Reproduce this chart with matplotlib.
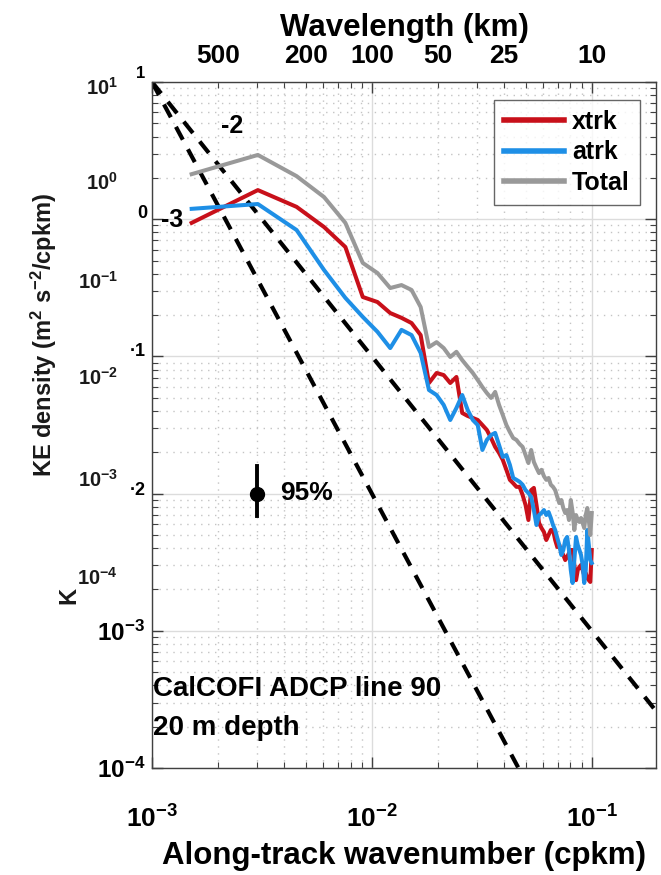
import numpy as np
import matplotlib
matplotlib.use("Agg")
import matplotlib.pyplot as plt
from matplotlib.ticker import LogLocator, NullLocator, NullFormatter, FixedLocator
from matplotlib.lines import Line2D

plt.rcParams['font.family'] = ['Liberation Sans', 'DejaVu Sans']
plt.rcParams['font.weight'] = 'bold'
plt.rcParams['mathtext.fontset'] = 'custom'
plt.rcParams['mathtext.rm'] = 'Liberation Sans:bold'
plt.rcParams['mathtext.bf'] = 'Liberation Sans:bold'
plt.rcParams['mathtext.it'] = 'Liberation Sans:bold:italic'
plt.rcParams['mathtext.default'] = 'rm'

# ---------------- data ----------------
wavenumber = [0.001515, 0.003030, 0.004545, 0.006061, 0.007576, 0.009091, 0.010606, 0.012121,
              0.013636, 0.015152, 0.016667, 0.018182, 0.019697, 0.021212, 0.022727, 0.024242,
              0.025758, 0.027273, 0.028788, 0.030303, 0.031818, 0.033333, 0.034848, 0.036364,
              0.037879, 0.039394, 0.040909, 0.042424, 0.043939, 0.045455, 0.046970, 0.048485,
              0.050000, 0.051515, 0.053030, 0.054545, 0.056061, 0.057576, 0.059091, 0.060606,
              0.062121, 0.063636, 0.065152, 0.066667, 0.068182, 0.069697, 0.071212, 0.072727,
              0.074242, 0.075758, 0.077273, 0.078788, 0.080303, 0.081818, 0.083333, 0.084848,
              0.086364, 0.087879, 0.089394, 0.090909, 0.092424, 0.093939, 0.095455, 0.096970,
              0.098485, 0.100000]

xtrk = [0.94, 1.63, 1.23, 0.877, 0.627, 0.271, 0.249, 0.207, 0.191, 0.175,
        0.143, 0.064, 0.0757, 0.0731, 0.064, 0.0708, 0.0387, 0.0368, 0.0356, 0.0344,
        0.0316, 0.0291, 0.0254, 0.0219, 0.0198, 0.0176, 0.0149, 0.0126, 0.0119, 0.0112,
        0.0112, 0.00977, 0.00826, 0.00642, 0.0106, 0.0110, 0.00826, 0.00611, 0.00561, 0.00525,
        0.00459, 0.00499, 0.00543, 0.00543, 0.00459, 0.00408, 0.00422, 0.00375, 0.00357, 0.00328,
        0.00345, 0.00369, 0.00388, 0.00388, 0.00302, 0.00234, 0.00277, 0.00292, 0.00302, 0.00277,
        0.00255, 0.00264, 0.00243, 0.00234, 0.00227, 0.00388]

atrk = [1.19, 1.29, 0.834, 0.426, 0.267, 0.194, 0.151, 0.115, 0.156, 0.143,
        0.106, 0.0569, 0.0523, 0.0443, 0.0344, 0.0421, 0.0523, 0.0407, 0.0344, 0.0316,
        0.0208, 0.0246, 0.0267, 0.0277, 0.0226, 0.0185, 0.0191, 0.0162, 0.0130, 0.0126,
        0.0122, 0.0116, 0.0106, 0.0101, 0.00945, 0.00759, 0.00590, 0.00698, 0.00722, 0.00759,
        0.00698, 0.00734, 0.00664, 0.00590, 0.00543, 0.00475, 0.00422, 0.00357, 0.00388, 0.00459,
        0.00483, 0.00388, 0.00277, 0.00223, 0.00328, 0.00483, 0.00422, 0.00388, 0.00357, 0.00302,
        0.00223, 0.00277, 0.00543, 0.00422, 0.00328, 0.00312]

total = [2.13, 2.94, 2.06, 1.45, 0.94, 0.48, 0.405, 0.315, 0.331, 0.305,
         0.229, 0.117, 0.127, 0.115, 0.099, 0.108, 0.094, 0.084, 0.0757, 0.0673,
         0.0598, 0.0541, 0.0498, 0.0551, 0.0443, 0.0374, 0.0316, 0.0281, 0.0254, 0.0246,
         0.0230, 0.0219, 0.0191, 0.0167, 0.0208, 0.0170, 0.0154, 0.0141, 0.0149, 0.0134,
         0.0126, 0.0130, 0.0116, 0.0112, 0.0106, 0.00945, 0.00854, 0.00898, 0.00785, 0.00722,
         0.00759, 0.00642, 0.00898, 0.00734, 0.00543, 0.00698, 0.00642, 0.00621, 0.00664, 0.00611,
         0.00561, 0.00698, 0.00785, 0.00642, 0.00499, 0.00722]

series_labels = ['xtrk', 'atrk', 'Total']
series_colors = ['#C8101A', '#1E8FE6', '#999999']

wavelength_ticks = [500, 200, 100, 50, 25, 10]   # km
slopes = [-2, -3]
slope_anchor = (1e-3, 10.0)

errbar_k = 0.003
errbar_center = 0.01
errbar_low = 0.0069
errbar_high = 0.0159

# ---------------- figure ----------------
W, H = 661, 875
fig = plt.figure(figsize=(W / 100, H / 100), dpi=100)

def P(x, y):
    return (x / W, 1 - y / H)

L, R, T, B = 152, 656, 82, 768
ax = fig.add_axes([L / W, 1 - B / H, (R - L) / W, (B - T) / H])
ax.set_xscale('log')
ax.set_yscale('log')
ax.set_xlim(1e-3, 0.196)
ax.set_ylim(1e-4, 1e1)

# grid
ax.grid(True, which='major', color='#dcdcdc', lw=1.0, ls='-', zorder=0)
ax.grid(True, which='minor', color='#c4c4c4', lw=1.0, ls=(0, (1, 4)), zorder=0)
ax.set_axisbelow(True)

# reference slopes
k0, e0 = slope_anchor
kk = np.array([1e-3, 0.196])
for s in slopes:
    ax.plot(kk, e0 * (kk / k0) ** s, color='black', lw=3.0, ls=(0, (3.5, 2.6)), zorder=2)

# spectra
k = np.array(wavenumber)
for vals, c in zip([xtrk, atrk, total], series_colors):
    ax.plot(k, vals, color=c, lw=2.9, zorder=3)

# error bar
ax.plot([errbar_k, errbar_k], [errbar_low, errbar_high], color='black', lw=2.8, zorder=4)
ax.plot([errbar_k], [errbar_center], 'o', color='black', ms=10, zorder=4)

# axes styling
for sp in ax.spines.values():
    sp.set_color('#404040')
    sp.set_linewidth(1.0)

ax.xaxis.set_major_locator(FixedLocator([1e-3, 1e-2, 1e-1]))
ax.set_xticklabels([r'$10^{-3}$', r'$10^{-2}$', r'$10^{-1}$'])
ax.xaxis.set_minor_locator(LogLocator(base=10, subs=np.arange(2, 10)))
ax.xaxis.set_minor_formatter(NullFormatter())

ax.yaxis.set_major_locator(FixedLocator([1e-4, 1e-3, 1e-2, 1e-1, 1e0, 1e1]))
ax.set_yticklabels([r'$10^{-4}$', r'$10^{-3}$', '', '', '', ''])
ax.yaxis.set_minor_locator(LogLocator(base=10, subs=np.arange(2, 10)))
ax.yaxis.set_minor_formatter(NullFormatter())

ax.tick_params(axis='x', which='major', labelsize=19, pad=27)
ax.tick_params(axis='y', which='major', labelsize=17.5, pad=5)

ax.set_xlabel('Along-track wavenumber (cpkm)', fontsize=22.5, fontweight='bold', labelpad=6)

# top wavelength axis
ax2 = ax.twiny()
ax2.set_xscale('log')
ax2.set_xlim(ax.get_xlim())
ax2.xaxis.set_major_locator(FixedLocator([1.0 / w for w in wavelength_ticks]))
ax2.set_xticklabels([str(w) for w in wavelength_ticks])
ax2.xaxis.set_minor_locator(NullLocator())
ax2.tick_params(axis='x', which='both', length=0, labelsize=19, pad=10)
ax2.set_xlabel('Wavelength (km)', fontsize=22.5, fontweight='bold', labelpad=6)
for sp in ax2.spines.values():
    sp.set_visible(False)

ax.tick_params(which='both', direction='in', top=True, right=True, labeltop=False,
               color='#404040')
ax.tick_params(which='major', length=8, width=1)
ax.tick_params(which='minor', length=4, width=0.8)

# legend
handles = [Line2D([], [], color=c, lw=4) for c in series_colors]
leg = fig.legend(handles, series_labels, loc='upper right', bbox_to_anchor=P(640, 100),
                 fontsize=18, frameon=True, fancybox=False, edgecolor='#404040',
                 handlelength=2.4, labelspacing=0.25, borderpad=0.4, handletextpad=0.35,
                 borderaxespad=0)
leg.get_frame().set_linewidth(1.0)
for t in leg.get_texts():
    t.set_fontweight('bold')

# annotations inside the plot
fig.text(*P(232, 126), '-2', fontsize=18, ha='center', va='center')
fig.text(*P(172, 220), '-3', fontsize=18, ha='center', va='center')
fig.text(*P(280, 493), '95%', fontsize=19, ha='left', va='center')
fig.text(*P(153, 696), 'CalCOFI ADCP line 90', fontsize=20, ha='left', va='baseline')
fig.text(*P(153, 735), '20 m depth', fontsize=20, ha='left', va='baseline')

# overlaid (ghost) left-axis labels
ghost_exp = ['1', '0', '-1', '-2', '-3', '-4']
ghost_y = [88, 183, 282, 378, 480, 578]
for e, y in zip(ghost_exp, ghost_y):
    fig.text(*P(118, y), r'$10^{%s}$' % e.replace('-', '{-}'), fontsize=14.5,
             ha='right', va='center', color='#1a1a1a')
fig.text(*P(44, 335), r'KE density (m$^2$ s$^{-2}$/cpkm)', fontsize=17,
         rotation=90, ha='center', va='center', color='#1a1a1a')
fig.text(*P(69, 595), 'K', fontsize=17, rotation=90, ha='center', va='center',
         color='#1a1a1a')
# fragments of the hidden axis labels
fig.text(*P(141, 74), '1', fontsize=12, ha='center', va='center')
fig.text(*P(142, 214), '0', fontsize=13, ha='center', va='center')
fig.text(*P(138, 351), '\u00b71', fontsize=13, ha='center', va='center')
fig.text(*P(138, 490), '\u00b72', fontsize=13, ha='center', va='center')

fig.savefig('out.png', dpi=100)
